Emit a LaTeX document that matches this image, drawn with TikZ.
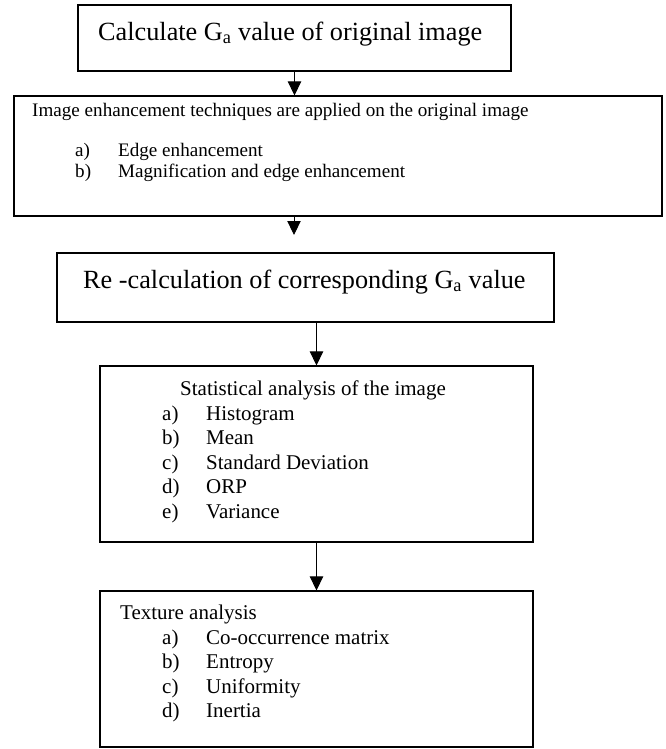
\documentclass[tikz,border=0pt]{standalone}
\usepackage{fontspec}
\setmainfont{Liberation Serif}
\usetikzlibrary{arrows.meta,positioning}

\begin{document}
\begin{tikzpicture}[
    x=0.03cm,
    y=-0.03cm,
    box/.style={draw=black,line width=0.9pt,inner sep=0pt},
    flow/.style={-{Triangle[length=4.2mm,width=4mm]},
                draw=black,line width=0.8pt},
    bigtext/.style={font=\fontsize{22.4}{26}\selectfont,inner sep=0pt,anchor=base west},
    midtext/.style={font=\fontsize{17.9}{21}\selectfont,inner sep=0pt,anchor=base west},
    smalltext/.style={font=\fontsize{16.3}{18.7}\selectfont,inner sep=0pt,anchor=base west}
]
\useasboundingbox (0,0) rectangle (666,749);

\node[box,minimum width=12.99cm,minimum height=1.98cm] (calc)   at (294.5,38)  {};
\node[box,minimum width=19.44cm,minimum height=3.60cm] (enh)    at (338,156)   {};
\node[box,minimum width=14.91cm,minimum height=2.07cm] (recalc) at (305.5,287.5) {};
\node[box,minimum width=12.99cm,minimum height=5.28cm] (stat)   at (316.5,454) {};
\node[box,minimum width=12.99cm,minimum height=4.68cm] (tex)    at (316.5,669) {};

\node[bigtext] (calctext) at (98,40) {Calculate G\textsubscript{a} value of original image};

\node[smalltext] (enhtext) at (32,116) {Image enhancement techniques are applied on the original image};
\node[smalltext] (enhlist) at (75,156) {%
  \begin{tabular}[t]{@{}p{1.29cm}@{}l@{}}
    a) & Edge enhancement\\
    b) & Magnification and edge enhancement
  \end{tabular}};

\node[bigtext] (recalctext) at (83,288) {Re -calculation of corresponding G\textsubscript{a} value};

\node[midtext] (stattext) at (180,395) {Statistical analysis of the image};
\node[midtext] (statlist) at (162,420) {%
  \begin{tabular}[t]{@{}p{1.32cm}@{}l@{}}
    a) & Histogram\\
    b) & Mean\\
    c) & Standard Deviation\\
    d) & ORP\\
    e) & Variance
  \end{tabular}};

\node[midtext] (textext) at (120,619) {Texture analysis};
\node[midtext] (texlist) at (162,644) {%
  \begin{tabular}[t]{@{}p{1.32cm}@{}l@{}}
    a) & Co-occurrence matrix\\
    b) & Entropy\\
    c) & Uniformity\\
    d) & Inertia
  \end{tabular}};

\coordinate (gapend) at (294,235);

\draw[flow] (calc.south) -- (calc.south |- enh.north);
\draw[flow] (enh.south -| gapend) -- (gapend);
\draw[flow] (recalc.south -| stat.north) -- (stat.north);
\draw[flow] (stat.south) -- (tex.north);

\end{tikzpicture}
\end{document}
